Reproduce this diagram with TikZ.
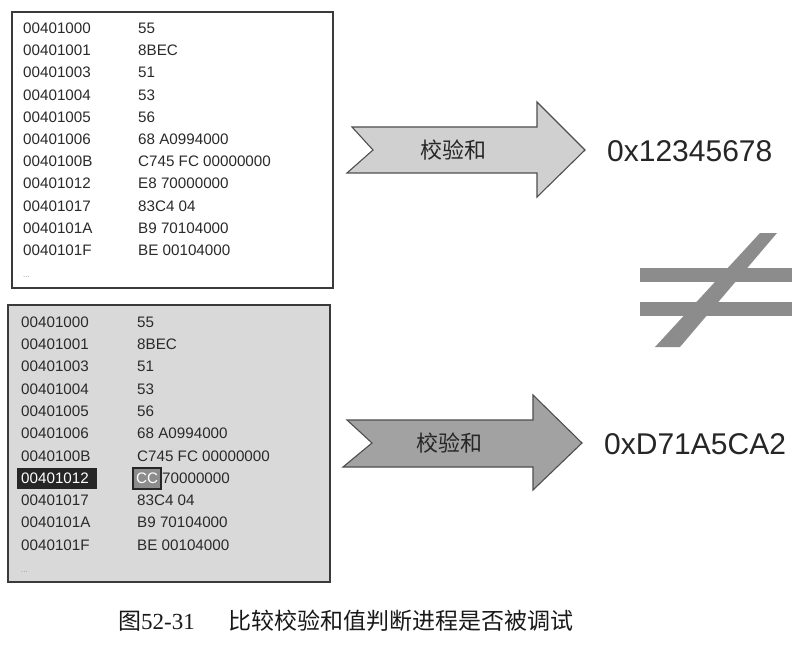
\documentclass[tikz,border=0pt]{standalone}
\usepackage{fontspec}
\setmainfont{Liberation Sans}
\newfontfamily\cjk{Noto Sans CJK SC}
\newfontfamily\capserif{Liberation Serif}
\usetikzlibrary{shadows}
\definecolor{frameline}{HTML}{3A3A3A}
\definecolor{panelgray}{HTML}{D9D9D9}
\definecolor{arrowlight}{HTML}{D0D0D0}
\definecolor{arrowdark}{HTML}{A2A2A2}
\definecolor{neqgray}{HTML}{8C8C8C}
\definecolor{codetext}{HTML}{2A2A2A}
\tikzset{
  panel/.style={draw=frameline, line width=1.3pt},
  code/.style={anchor=west, inner sep=0pt, text=codetext, font=\fontsize{15.2}{15.2}\selectfont},
  flowarrow/.style={draw=frameline!90, line width=1.1pt, line join=miter},
  arrowlabel/.style={inner sep=0pt, text=black!85, font=\cjk\fontsize{22}{22}\selectfont},
  result/.style={anchor=west, inner sep=0pt, text=black!85, font=\fontsize{30}{30}\selectfont},
  markbyte/.style={draw=black!85, fill=black!45, line width=2.4pt, inner sep=0pt},
}
\begin{document}
\begin{tikzpicture}[x=1pt, y=-1pt]
\useasboundingbox (0,0) rectangle (809,658);
\fill[white] (0,0) rectangle (809,658);

% upper listing
\draw[panel, fill=white] (12,12) rectangle (333,288);
\foreach \i/\a/\b in {0/00401000/55, 1/00401001/8BEC, 2/00401003/51, 3/00401004/53,
    4/00401005/56, 5/00401006/68 A0994000, 6/0040100B/C745 FC 00000000,
    7/00401012/E8 70000000, 8/00401017/83C4 04, 9/0040101A/B9 70104000,
    10/0040101F/BE 00104000} {
  \node[code] (ua\i) at (23, 28.3+22.2*\i) {\a};
  \node[code] (ub\i) at (138, 28.3+22.2*\i) {\b};
}
\node[code, text=black!40, font=\fontsize{8}{8}\selectfont] (uend) at (23, 277) {...};

% lower listing, one byte patched to CC
\draw[panel, fill=panelgray] (8,305) rectangle (330,582);
\fill[black!85, drop shadow={shadow xshift=0pt, shadow yshift=0pt, opacity=0.35}] (17,468) rectangle (97,489);
\draw[markbyte] (133,468) rectangle (161,489);
\foreach \i/\a/\b in {0/00401000/55, 1/00401001/8BEC, 2/00401003/51, 3/00401004/53,
    4/00401005/56, 5/00401006/68 A0994000, 6/0040100B/C745 FC 00000000,
    8/00401017/83C4 04, 9/0040101A/B9 70104000, 10/0040101F/BE 00104000} {
  \node[code] (la\i) at (21, 322+22.3*\i) {\a};
  \node[code] (lb\i) at (137, 322+22.3*\i) {\b};
}
\node[code, text=white] (la7) at (21, 478.5) {00401012};
\node[code, text=white] (lcc) at (136, 478.5) {CC};
\node[code] (lb7) at (162, 478.5) {70000000};
\node[code, text=black!40, font=\fontsize{8}{8}\selectfont] (lend) at (21, 572) {...};

% checksum arrows
\draw[flowarrow, fill=arrowlight]
  (352,127) -- (537,127) -- (537,102) -- (585,150) -- (537,197) -- (537,173)
  -- (347,173) -- (373,150) -- cycle;
\node[arrowlabel] (sum1) at (453,150) {校验和};
\draw[flowarrow, fill=arrowdark]
  (347,420) -- (533,420) -- (533,395) -- (582,443) -- (533,490) -- (533,467)
  -- (343,467) -- (372,443) -- cycle;
\node[arrowlabel] (sum2) at (449,443) {校验和};

% resulting checksums
\node[result] (r1) at (607,151) {0x12345678};
\node[result] (r2) at (604,444) {0xD71A5CA2};

% not-equal sign
\fill[neqgray] (640,268) rectangle (792,282);
\fill[neqgray] (640,302) rectangle (792,316);
\fill[neqgray] (760,233) -- (777,233) -- (680,347) -- (655,347) -- cycle;

% caption
\node[anchor=west, inner sep=0pt, text=black!90] (cap) at (118,621)
  {\cjk\fontsize{23}{23}\selectfont 图\capserif 52-31\hspace{34pt}\cjk 比较校验和值判断进程是否被调试};
\end{tikzpicture}
\end{document}
